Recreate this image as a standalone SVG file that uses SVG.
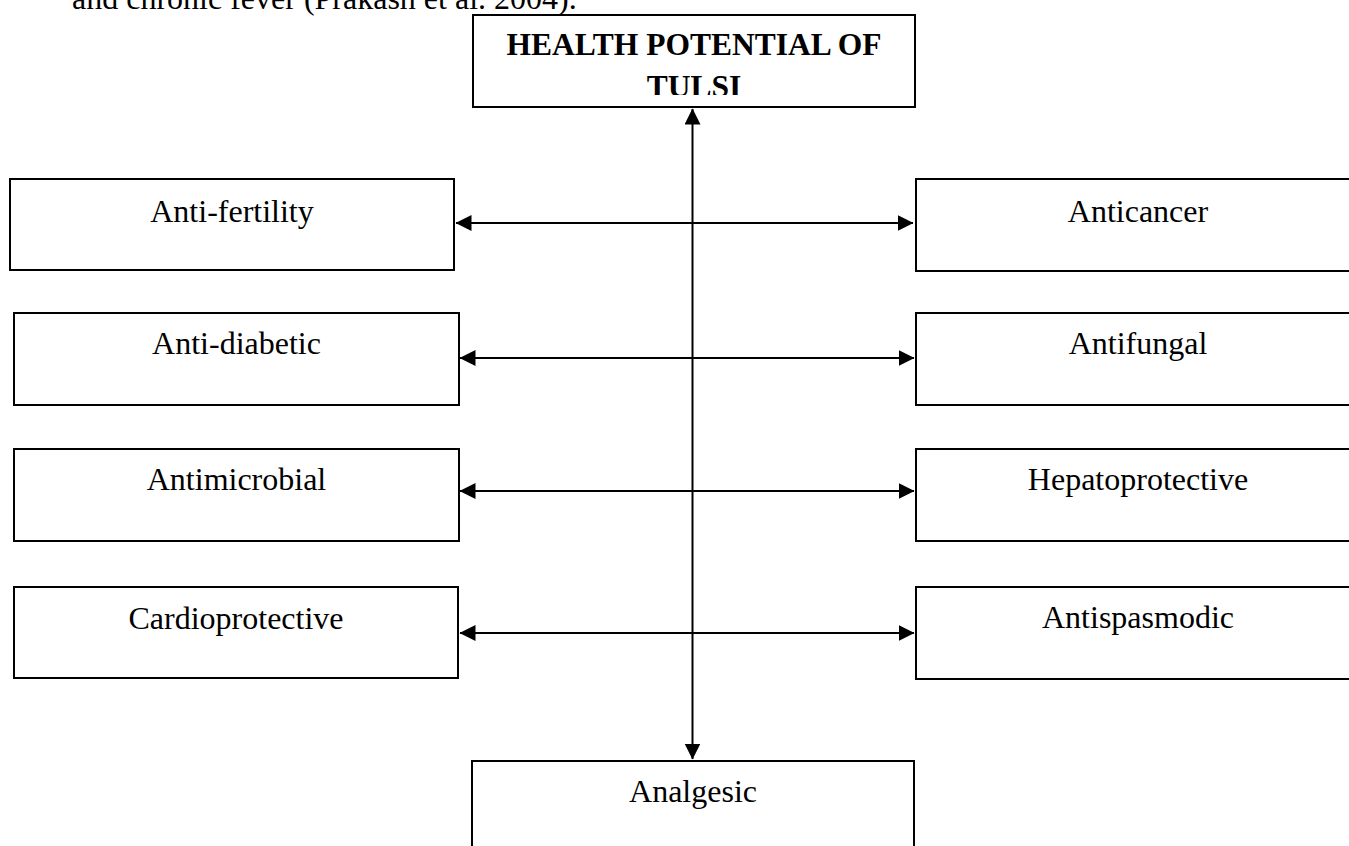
<svg xmlns="http://www.w3.org/2000/svg" width="1349" height="846" viewBox="0 0 1349 846">
  <style>
    .box { fill: #ffffff; stroke: #000000; stroke-width: 2; }
    .lbl { font-family: "Liberation Serif", "Times New Roman", serif; font-size: 32px; fill: #000000; text-anchor: middle; }
    .ttl { font-family: "Liberation Serif", "Times New Roman", serif; font-size: 31.5px; font-weight: bold; fill: #000000; text-anchor: middle; }
    .body { font-family: "Liberation Serif", "Times New Roman", serif; font-size: 32px; fill: #000000; }
    .conn { fill: none; stroke: #000000; stroke-width: 2; }
  </style>
  <defs>
    <marker id="ah" markerUnits="userSpaceOnUse" markerWidth="17" markerHeight="17" refX="15.5" refY="8" orient="auto-start-reverse" viewBox="0 0 17 17">
      <path d="M0,0 L16,8 L0,16 Z" fill="#000000"/>
    </marker>
    <clipPath id="ttlclip">
      <rect x="474" y="16" width="440" height="79"/>
    </clipPath>
  </defs>
  <rect x="0" y="0" width="1349" height="846" fill="#ffffff"/>

  <text class="body" x="72" y="9">and chronic fever (Prakash et al. 2004).</text>

  <g id="connectors">
    <path class="conn" d="M692.5,109 V759" marker-start="url(#ah)" marker-end="url(#ah)"/>
    <path class="conn" d="M456,223 H913" marker-start="url(#ah)" marker-end="url(#ah)"/>
    <path class="conn" d="M460,358 H914" marker-start="url(#ah)" marker-end="url(#ah)"/>
    <path class="conn" d="M460,491 H914" marker-start="url(#ah)" marker-end="url(#ah)"/>
    <path class="conn" d="M460,633 H914" marker-start="url(#ah)" marker-end="url(#ah)"/>
  </g>

  <g id="node-title">
    <rect class="box" x="473" y="15" width="442" height="92"/>
    <g clip-path="url(#ttlclip)">
      <text class="ttl" x="694" y="55">HEALTH POTENTIAL OF</text>
      <text class="ttl" x="694" y="97">TULSI</text>
    </g>
  </g>

  <g id="node-antifertility">
    <rect class="box" x="10" y="179" width="444" height="91"/>
    <text class="lbl" x="232" y="222">Anti-fertility</text>
  </g>
  <g id="node-antidiabetic">
    <rect class="box" x="14" y="313" width="445" height="92"/>
    <text class="lbl" x="236.5" y="354">Anti-diabetic</text>
  </g>
  <g id="node-antimicrobial">
    <rect class="box" x="14" y="449" width="445" height="92"/>
    <text class="lbl" x="236.5" y="490">Antimicrobial</text>
  </g>
  <g id="node-cardioprotective">
    <rect class="box" x="14" y="587" width="444" height="91"/>
    <text class="lbl" x="236" y="629">Cardioprotective</text>
  </g>

  <g id="node-anticancer">
    <rect class="box" x="916" y="179" width="445" height="92"/>
    <text class="lbl" x="1138" y="222">Anticancer</text>
  </g>
  <g id="node-antifungal">
    <rect class="box" x="916" y="313" width="445" height="92"/>
    <text class="lbl" x="1138" y="354">Antifungal</text>
  </g>
  <g id="node-hepatoprotective">
    <rect class="box" x="916" y="449" width="445" height="92"/>
    <text class="lbl" x="1138" y="490">Hepatoprotective</text>
  </g>
  <g id="node-antispasmodic">
    <rect class="box" x="916" y="587" width="445" height="92"/>
    <text class="lbl" x="1138" y="628">Antispasmodic</text>
  </g>

  <g id="node-analgesic">
    <rect class="box" x="472" y="761" width="442" height="100"/>
    <text class="lbl" x="693" y="802">Analgesic</text>
  </g>
</svg>
